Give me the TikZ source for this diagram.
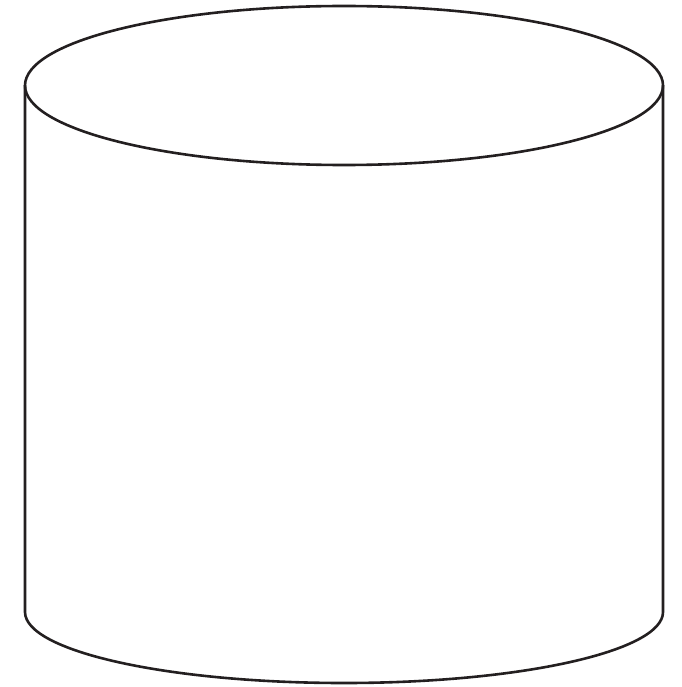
\documentclass[tikz,border=0pt]{standalone}
\begin{document}
\begin{tikzpicture}[x=1pt,y=-1pt,line width=2.6pt]
\definecolor{ink}{HTML}{231F20}
\useasboundingbox (0,0) rectangle (681,687);
\tikzset{cyl/.style={draw=ink,line join=round}}
% top ellipse
\draw[cyl] (344,85.5) ellipse [x radius=319, y radius=79.5];
% sides and bottom arc
\draw[cyl] (25,85.5) -- (25,612) arc [start angle=180, end angle=0, x radius=319, y radius=71] -- (663,85.5);
\end{tikzpicture}
\end{document}
